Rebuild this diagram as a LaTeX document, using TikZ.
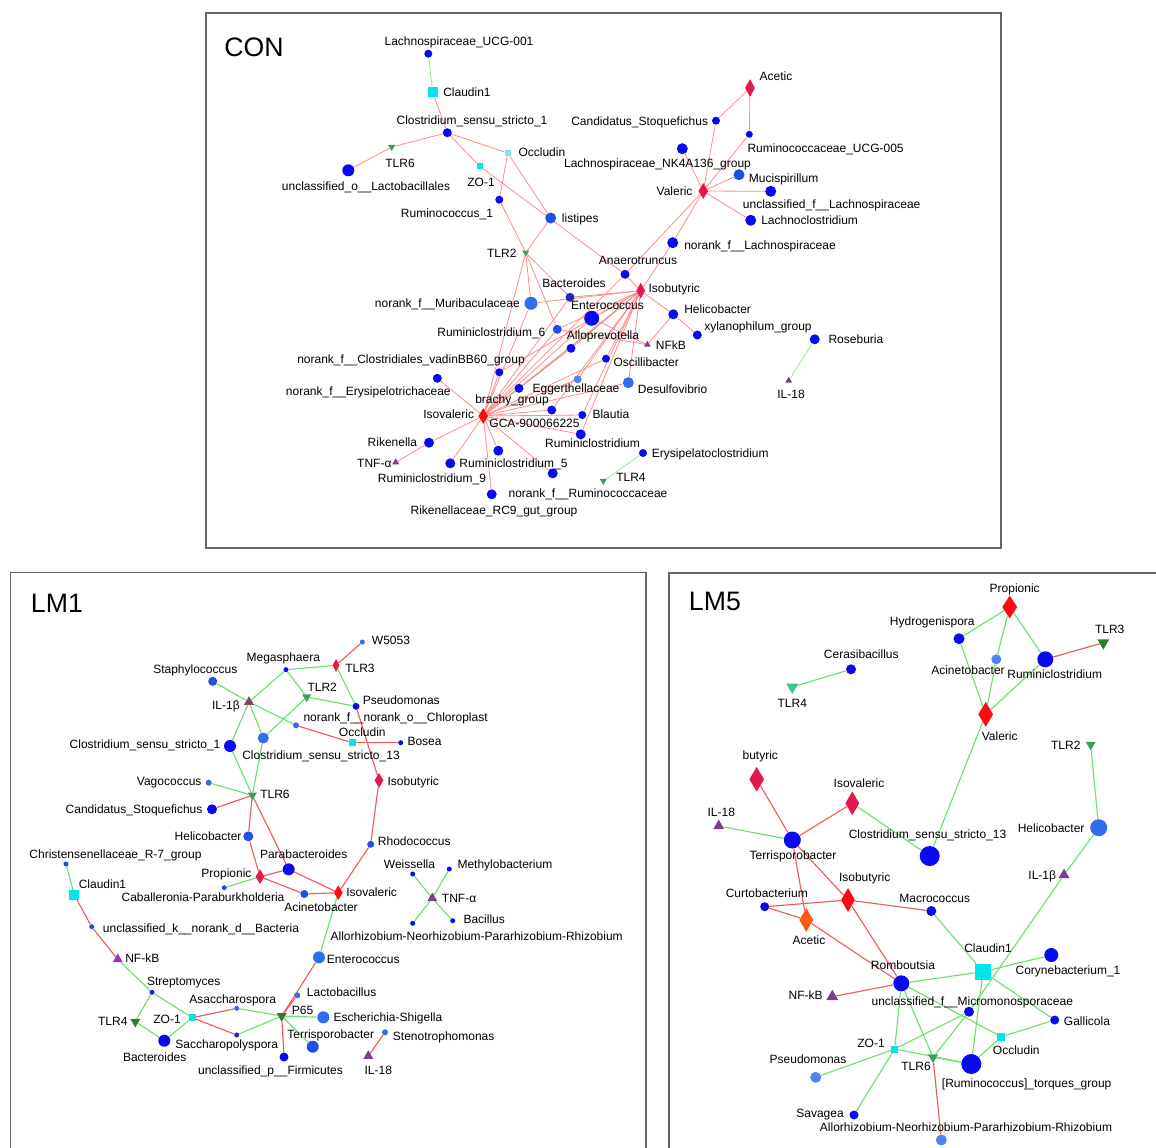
\documentclass[tikz,border=0pt]{standalone}
\usepackage{fontspec}
\setmainfont{Liberation Sans}
\usetikzlibrary{shapes.geometric,backgrounds}
\definecolor{nb}{HTML}{0A0AF0}
\definecolor{nb2}{HTML}{1E4FE6}
\definecolor{nb3}{HTML}{2F6CEE}
\definecolor{nb4}{HTML}{4F82F2}
\definecolor{nbd}{HTML}{2323C8}
\definecolor{crim}{HTML}{E3194B}
\definecolor{rd}{HTML}{FF0A14}
\definecolor{orng}{HTML}{FF5A12}
\definecolor{cy}{HTML}{00E6E6}
\definecolor{lcy}{HTML}{80E4F0}
\definecolor{tg}{HTML}{3D9E5F}
\definecolor{tgd}{HTML}{2E7D32}
\definecolor{tgm}{HTML}{3CC48C}
\definecolor{pu}{HTML}{7A3F8C}
\definecolor{pub}{HTML}{A030C8}
\definecolor{pubr}{HTML}{7A4466}
\definecolor{eR}{HTML}{FF8C8C}
\definecolor{eG}{HTML}{90EE90}
\definecolor{eR2}{HTML}{F25A5A}
\definecolor{eG2}{HTML}{6EE06E}
\tikzset{
 lab/.style={font=\fontsize{9}{10}\selectfont, inner sep=0pt, text height=6.6pt, text depth=0pt},
 ttl/.style={font=\fontsize{20}{24}\selectfont, inner sep=0pt},
 bug/.style 2 args={circle, inner sep=0pt, draw=none, fill=#1, minimum size=#2*0.75pt},
 acid/.style n args={3}{diamond, inner sep=0pt, fill=#1, minimum width=#2*0.75pt, minimum height=#3*0.75pt},
 tdown/.style 2 args={regular polygon, regular polygon sides=3, shape border rotate=180, inner sep=0pt, fill=#1, minimum size=#2*0.866pt},
 tup/.style 2 args={regular polygon, regular polygon sides=3, inner sep=0pt, fill=#1, minimum size=#2*0.866pt},
 sq/.style 2 args={rectangle, inner sep=0pt, fill=#1, minimum size=#2*0.75pt},
 re/.style={draw=eR, line width=0.6pt},
 ge/.style={draw=eG, line width=0.6pt},
 rl/.style={draw=eR2, line width=0.85pt},
 gl/.style={draw=eG2, line width=0.85pt},
 panel/.style={draw=black!60, line width=1pt}
}
\begin{document}
\begin{tikzpicture}[x=0.75pt,y=-0.75pt]
\useasboundingbox (0,0) rectangle (1156,1147);

% ================= CON =================
\node[ttl,anchor=west] (tCON) at (224,47) {CON};
\node[bug={nb}{8}] (ucg001) at (428.3,53.7) {};
\node[sq={cy}{10}] (claudinC) at (432.7,92) {};
\node[bug={nb}{9}] (cls1) at (447.3,132.7) {};
\node[tdown={tg}{7}] (tlr6C) at (391.7,147) {};
\node[bug={nb}{12}] (lactob) at (348.3,170.3) {};
\node[sq={cy}{6}] (zo1C) at (479.7,166.3) {};
\node[sq={lcy}{6}] (occC) at (507.7,153) {};
\node[bug={nb}{8}] (rum1) at (499.3,199.7) {};
\node[bug={nb2}{11}] (listipes) at (550.7,218) {};
\node[tdown={tg}{7}] (tlr2C) at (525.7,252.7) {};
\node[acid={crim}{10}{18}] (acetC) at (750,88) {};
\node[bug={nb}{8}] (candC) at (716,120.7) {};
\node[bug={nb}{7}] (ucg005) at (749.3,134.3) {};
\node[bug={nb}{11}] (nk4a) at (682.3,148.7) {};
\node[acid={crim}{10}{16}] (valC) at (703.3,191) {};
\node[bug={nb2}{11}] (mucis) at (739,174.7) {};
\node[bug={nb}{11}] (uncfL) at (770.7,191.3) {};
\node[bug={nb}{11}] (lachnocl) at (750.7,220.3) {};
\node[bug={nb}{11}] (norankL) at (672.7,242.7) {};
\node[bug={nb}{9}] (anaero) at (625,274.3) {};
\node[acid={crim}{9}{16}] (isobC) at (640.7,290.7) {};
\node[bug={nbd}{9}] (bactC) at (570,297.3) {};
\node[bug={nb3}{13}] (murib) at (531,303.3) {};
\node[bug={nb}{15}] (enteroC) at (591.7,318.3) {};
\node[bug={nb}{10}] (helicC) at (673.3,314.3) {};
\node[bug={nb}{9}] (xylan) at (697.3,335) {};
\node[bug={nb}{10}] (rosebur) at (814.7,339.3) {};
\node[tup={pu}{7}] (il18C) at (788.7,380.7) {};
\node[tup={pu}{7}] (nfkbC) at (647.3,344.7) {};
\node[bug={nb2}{9}] (rumi6) at (557.3,329.3) {};
\node[bug={nb}{9}] (allop) at (571,348.3) {};
\node[bug={nb}{8}] (oscill) at (606,358.7) {};
\node[bug={nb3}{11}] (desulf) at (628.3,382.7) {};
\node[bug={nb4}{8}] (egger) at (577.7,379.3) {};
\node[bug={nb}{8}] (vadin) at (499.3,372.3) {};
\node[bug={nb}{9}] (erysip) at (437.3,378.3) {};
\node[bug={nb}{9}] (brachy) at (519,388.3) {};
\node[bug={nb}{9}] (gca) at (551.7,410) {};
\node[bug={nb}{8}] (blautia) at (582.3,415) {};
\node[acid={rd}{10}{16}] (isovC) at (483.3,416) {};
\node[bug={nb}{10}] (ruminicl) at (580.7,434.3) {};
\node[bug={nb}{8}] (erysCl) at (643,453) {};
\node[tdown={tg}{7}] (tlr4C) at (603.3,481) {};
\node[bug={nb}{10}] (rikenella) at (429,442.7) {};
\node[tup={pu}{7}] (tnfC) at (395.7,462.3) {};
\node[bug={nb}{10}] (rumi9) at (450.3,463.3) {};
\node[bug={nb}{10}] (rumi5) at (498.3,450.7) {};
\node[bug={nb}{10}] (noranRum) at (552.7,473.3) {};
\node[bug={nb}{10}] (rc9) at (491.7,494.3) {};

\node[lab] (Lucg001) at (459,41) {Lachnospiraceae\_UCG-001};
\node[lab,anchor=west] (LclaudinC) at (443,92) {Claudin1};
\node[lab] (Lcls1) at (472,119.7) {Clostridium\_sensu\_stricto\_1};
\node[lab] (Ltlr6C) at (400,162.7) {TLR6};
\node[lab] (Llactob) at (366,185.7) {unclassified\_o\_\_Lactobacillales};
\node[lab] (Lzo1C) at (481,182) {ZO-1};
\node[lab,anchor=west] (LoccC) at (518.3,152) {Occludin};
\node[lab] (Lrum1) at (447,213) {Ruminococcus\_1};
\node[lab,anchor=west] (Llistipes) at (561.7,218) {listipes};
\node[lab,anchor=east] (Ltlr2C) at (516.7,252.7) {TLR2};
\node[lab,anchor=west] (LacetC) at (759.3,76.3) {Acetic};
\node[lab,anchor=east] (LcandC) at (708.3,120.7) {Candidatus\_Stoquefichus};
\node[lab,anchor=west] (Lucg005) at (747.3,147.7) {Ruminococcaceae\_UCG-005};
\node[lab] (Lnk4a) at (657.5,162.7) {Lachnospiraceae\_NK4A136\_group};
\node[lab,anchor=east] (LvalC) at (692.7,191) {Valeric};
\node[lab,anchor=west] (Lmucis) at (748.7,177.7) {Mucispirillum};
\node[lab] (LuncfL) at (831.7,204.3) {unclassified\_f\_\_Lachnospiraceae};
\node[lab,anchor=west] (Llachnocl) at (761,220.3) {Lachnoclostridium};
\node[lab,anchor=west] (LnorankL) at (684,245.3) {norank\_f\_\_Lachnospiraceae};
\node[lab] (Lanaero) at (638,260.3) {Anaerotruncus};
\node[lab,anchor=west] (LisobC) at (648.3,288.3) {Isobutyric};
\node[lab] (LbactC) at (574,283.3) {Bacteroides};
\node[lab,anchor=east] (Lmurib) at (520,303.3) {norank\_f\_\_Muribaculaceae};
\node[lab] (LenteroC) at (607.5,305) {Enterococcus};
\node[lab,anchor=west] (LhelicC) at (684,309.3) {Helicobacter};
\node[lab,anchor=west] (Lxylan) at (704,326) {xylanophilum\_group};
\node[lab,anchor=west] (Lrosebur) at (828.3,339.3) {Roseburia};
\node[lab] (Lil18C) at (791,393.7) {IL-18};
\node[lab,anchor=west] (LnfkbC) at (655.7,344.7) {NFkB};
\node[lab,anchor=east] (Lrumi6) at (545.7,331.7) {Ruminiclostridium\_6};
\node[lab] (Lallop) at (603,335) {Alloprevotella};
\node[lab,anchor=west] (Loscill) at (613.3,362.3) {Oscillibacter};
\node[lab,anchor=west] (Ldesulf) at (637.7,389) {Desulfovibrio};
\node[lab] (Legger) at (576,388.3) {Eggerthellaceae};
\node[lab] (Lvadin) at (411,359.3) {norank\_f\_\_Clostridiales\_vadinBB60\_group};
\node[lab] (Lerysip) at (368.3,390.7) {norank\_f\_\_Erysipelotrichaceae};
\node[lab] (Lbrachy) at (512,399.3) {brachy\_group};
\node[lab] (Lgca) at (534.5,423.3) {GCA-900066225};
\node[lab,anchor=east] (LisovC) at (474.3,414) {Isovaleric};
\node[lab,anchor=west] (Lblautia) at (592.3,414) {Blautia};
\node[lab] (Lruminicl) at (592.5,443.3) {Ruminiclostridium};
\node[lab,anchor=west] (LerysCl) at (651.7,453) {Erysipelatoclostridium};
\node[lab,anchor=west] (Ltlr4C) at (616,476.7) {TLR4};
\node[lab,anchor=east] (Lrikenella) at (417.3,442) {Rikenella};
\node[lab,anchor=east] (LtnfC) at (391.7,462.7) {TNF-α};
\node[lab] (Lrumi9) at (432,478.3) {Ruminiclostridium\_9};
\node[lab] (Lrumi5) at (513.5,462.7) {Ruminiclostridium\_5};
\node[lab] (LnoranRum) at (588,492.7) {norank\_f\_\_Ruminococcaceae};
\node[lab] (Lrc9) at (494,510) {Rikenellaceae\_RC9\_gut\_group};

% ================= LM1 =================
\node[ttl,anchor=west] (tLM1) at (30.7,603.7) {LM1};
\node[bug={nb}{5}] (megas) at (286,669.7) {};
\node[bug={nb2}{9}] (staph) at (212.7,681.3) {};
\node[tup={pubr}{10}] (il1bL) at (249,702) {};
\node[tdown={tg}{9}] (tlr2L) at (306.7,697) {};
\node[bug={nb3}{6}] (chloro) at (296,725.3) {};
\node[bug={nb}{12}] (cls1L) at (230,746) {};
\node[bug={nb3}{11}] (cls13L) at (263.3,738) {};
\node[bug={nb3}{6}] (vago) at (208.7,782.7) {};
\node[tdown={tg}{9}] (tlr6L) at (252.3,795.3) {};
\node[bug={nb}{10}] (candL) at (212,809.3) {};
\node[bug={nb2}{10}] (helicL) at (248.3,836.3) {};
\node[bug={nb2}{5}] (christ) at (66,864) {};
\node[bug={nb3}{5}] (w5053) at (362.3,642) {};
\node[acid={crim}{7}{13}] (tlr3L) at (336,665.3) {};
\node[bug={nb}{7}] (pseudoL) at (356,706.3) {};
\node[sq={cy}{7}] (occL) at (352,742.7) {};
\node[bug={nb}{5}] (bosea) at (400.7,742.7) {};
\node[acid={crim}{9}{15}] (isobL) at (379,780.3) {};
\node[bug={nb2}{7}] (rhodo) at (370.7,844.3) {};
\node[bug={nb}{12}] (parab) at (288.7,869.3) {};
\node[acid={crim}{9}{15}] (propL) at (260,876.7) {};
\node[bug={nb2}{5}] (caball) at (224.3,887.7) {};
\node[bug={nb2}{8}] (acinL) at (304.3,894) {};
\node[acid={rd}{9}{15}] (isovL) at (338.3,892.7) {};
\node[sq={cy}{10}] (claudL) at (74.3,895) {};
\node[bug={nb2}{5}] (unclk) at (91.7,926.7) {};
\node[tup={pub}{10}] (nfkbL) at (117.7,959.3) {};
\node[bug={nbd}{5}] (strep) at (152,992.3) {};
\node[tdown={tgd}{10}] (tlr4L) at (135.3,1021.7) {};
\node[sq={cy}{7}] (zo1L) at (192.3,1017.7) {};
\node[bug={nb}{12}] (bactL) at (164.3,1040.7) {};
\node[bug={nb3}{5}] (asacc) at (236.7,1008.3) {};
\node[bug={nbd}{5}] (saccharo) at (236.7,1035) {};
\node[tdown={tgd}{10}] (p65) at (281.7,1016) {};
\node[bug={nb2}{12}] (terrisL) at (312.7,1046.7) {};
\node[bug={nb}{9}] (firmic) at (284,1057) {};
\node[bug={nb3}{12}] (enteroL) at (319,957.3) {};
\node[bug={nb3}{6}] (lacto) at (297.3,995.3) {};
\node[bug={nb3}{12}] (escher) at (323.3,1017.3) {};
\node[bug={nb3}{6}] (steno) at (385,1032.3) {};
\node[tup={pu}{10}] (il18L) at (368.3,1056) {};
\node[bug={nb}{5}] (weiss) at (412.7,874) {};
\node[bug={nb}{5}] (methylo) at (449.3,869) {};
\node[tup={pu}{10}] (tnfL) at (432.3,898.3) {};
\node[bug={nb}{5}] (bacillus) at (452.7,920.7) {};
\node[bug={nb}{5}] (allorL) at (412.7,923.3) {};

\node[lab] (Lmegas) at (283.3,657) {Megasphaera};
\node[lab] (Lstaph) at (195.3,668.7) {Staphylococcus};
\node[lab,anchor=east] (Lil1bL) at (240,705) {IL-1β};
\node[lab,anchor=west] (Ltlr2L) at (307.3,687) {TLR2};
\node[lab,anchor=west] (Lchloro) at (303.3,717) {norank\_f\_\_norank\_o\_\_Chloroplast};
\node[lab,anchor=east] (Lcls1L) at (220.7,743.7) {Clostridium\_sensu\_stricto\_1};
\node[lab] (Lcls13L) at (321,754.7) {Clostridium\_sensu\_stricto\_13};
\node[lab,anchor=east] (Lvago) at (201.7,781.3) {Vagococcus};
\node[lab,anchor=west] (Ltlr6L) at (260,793.7) {TLR6};
\node[lab,anchor=east] (LcandL) at (202.7,809.3) {Candidatus\_Stoquefichus};
\node[lab,anchor=east] (LhelicL) at (241.7,836) {Helicobacter};
\node[lab] (Lchrist) at (115.5,854.3) {Christensenellaceae\_R-7\_group};
\node[lab,anchor=west] (Lw5053) at (371.7,640.3) {W5053};
\node[lab,anchor=west] (Ltlr3L) at (345,667.7) {TLR3};
\node[lab,anchor=west] (LpseudoL) at (362.7,699.7) {Pseudomonas};
\node[lab] (LoccL) at (362.3,732) {Occludin};
\node[lab,anchor=west] (Lbosea) at (407.3,741) {Bosea};
\node[lab,anchor=west] (LisobL) at (387.3,781.3) {Isobutyric};
\node[lab,anchor=west] (Lrhodo) at (377.7,841.3) {Rhodococcus};
\node[lab] (Lparab) at (303.7,854) {Parabacteroides};
\node[lab,anchor=east] (LpropL) at (251.7,873.3) {Propionic};
\node[lab] (Lcaball) at (203,896.7) {Caballeronia-Paraburkholderia};
\node[lab] (LacinL) at (321,906.7) {Acinetobacter};
\node[lab,anchor=west] (LisovL) at (346,891.7) {Isovaleric};
\node[lab] (LclaudL) at (102.5,884.3) {Claudin1};
\node[lab,anchor=west] (Lunclk) at (102.7,928.3) {unclassified\_k\_\_norank\_d\_\_Bacteria};
\node[lab,anchor=west] (LnfkbL) at (125,957.7) {NF-kB};
\node[lab] (Lstrep) at (183.7,981.3) {Streptomyces};
\node[lab,anchor=east] (Ltlr4L) at (127.7,1021) {TLR4};
\node[lab,anchor=east] (Lzo1L) at (181,1019) {ZO-1};
\node[lab] (LbactL) at (154.7,1057.3) {Bacteroides};
\node[lab] (Lasacc) at (232.7,999) {Asaccharospora};
\node[lab] (Lsaccharo) at (226.8,1044) {Saccharopolyspora};
\node[lab,anchor=west] (Lp65) at (291.7,1010) {P65};
\node[lab] (LterrisL) at (330.7,1034) {Terrisporobacter};
\node[lab] (Lfirmic) at (270.5,1070) {unclassified\_p\_\_Firmicutes};
\node[lab,anchor=west] (LenteroL) at (326.7,959.3) {Enterococcus};
\node[lab,anchor=west] (Llacto) at (306.7,991.7) {Lactobacillus};
\node[lab,anchor=west] (Lescher) at (333.3,1016.7) {Escherichia-Shigella};
\node[lab,anchor=west] (Lsteno) at (392.7,1035.7) {Stenotrophomonas};
\node[lab] (Lil18L) at (378.3,1070) {IL-18};
\node[lab] (Lweiss) at (409.5,864.3) {Weissella};
\node[lab,anchor=west] (Lmethylo) at (457.3,864) {Methylobacterium};
\node[lab,anchor=west] (LtnfL) at (441.7,898.3) {TNF-α};
\node[lab,anchor=west] (Lbacillus) at (463.3,919) {Bacillus};
\node[lab] (LallorL) at (476.7,936) {Allorhizobium-Neorhizobium-Pararhizobium-Rhizobium};

% ================= LM5 =================
\node[ttl,anchor=west] (tLM5) at (688.7,601.3) {LM5};
\node[acid={rd}{15}{23}] (propM) at (1009.7,607) {};
\node[bug={nb}{11}] (hydro) at (959,638.7) {};
\node[tdown={tgd}{12}] (tlr3M) at (1103.3,642.7) {};
\node[bug={nb}{10}] (ceras) at (851,669.3) {};
\node[tdown={tgm}{12}] (tlr4M) at (792.3,687) {};
\node[bug={nb4}{10}] (acinM) at (996.3,659.3) {};
\node[bug={nb}{16}] (rumiM) at (1045.3,659.3) {};
\node[acid={rd}{15}{25}] (valM) at (985.7,714.3) {};
\node[tdown={tg}{10}] (tlr2M) at (1090.7,744.7) {};
\node[acid={crim}{15}{25}] (butM) at (756.7,779.3) {};
\node[acid={crim}{14}{24}] (isovM) at (852.3,803.3) {};
\node[tup={pu}{11}] (il18M) at (718.7,826) {};
\node[bug={nb}{17}] (terrisM) at (792.3,840) {};
\node[bug={nb}{20}] (cls13M) at (929.7,856) {};
\node[bug={nb3}{17}] (helicM) at (1098.7,827.7) {};
\node[tup={pu}{11}] (il1bM) at (1064,875) {};
\node[acid={rd}{14}{24}] (isobM) at (848,900) {};
\node[bug={nb}{9}] (curto) at (764.7,906.7) {};
\node[acid={orng}{14}{24}] (acetM) at (806.3,920) {};
\node[bug={nb}{10}] (macro) at (931.3,911) {};
\node[sq={cy}{16}] (claudM) at (983,971.7) {};
\node[bug={nb}{14}] (coryne) at (1051.3,955) {};
\node[bug={nb}{16}] (rombo) at (901.3,983.3) {};
\node[tup={pu}{12}] (nfkbM) at (832.3,996.7) {};
\node[bug={nb}{10}] (micro) at (969,1011.7) {};
\node[bug={nb}{9}] (gallic) at (1054.7,1020) {};
\node[sq={cy}{8}] (occM) at (1001.3,1036.7) {};
\node[sq={cy}{7}] (zo1M) at (894.7,1049) {};
\node[tdown={tg}{10}] (tlr6M) at (933,1057.3) {};
\node[bug={nb}{20}] (torques) at (971.3,1064) {};
\node[bug={nb4}{11}] (pseudoM) at (815.7,1077.3) {};
\node[bug={nb}{9}] (savagea) at (854,1115) {};
\node[bug={nb4}{11}] (allorM) at (941.3,1140) {};

\node[lab] (LpropM) at (1014.7,587.7) {Propionic};
\node[lab] (Lhydro) at (932.3,621.3) {Hydrogenispora};
\node[lab] (Ltlr3M) at (1109.7,628.7) {TLR3};
\node[lab] (Lceras) at (861.3,653.7) {Cerasibacillus};
\node[lab] (Ltlr4M) at (792.3,703) {TLR4};
\node[lab] (LacinM) at (968,669.7) {Acinetobacter};
\node[lab] (LrumiM) at (1054.7,674.3) {Ruminiclostridium};
\node[lab] (LvalM) at (999.7,736.3) {Valeric};
\node[lab,anchor=east] (Ltlr2M) at (1080.7,744.7) {TLR2};
\node[lab] (LbutM) at (760.3,754.7) {butyric};
\node[lab] (LisovM) at (859,783.3) {Isovaleric};
\node[lab] (Lil18M) at (721.3,811.7) {IL-18};
\node[lab] (LterrisM) at (793,855) {Terrisporobacter};
\node[lab] (Lcls13M) at (927.5,834) {Clostridium\_sensu\_stricto\_13};
\node[lab,anchor=east] (LhelicM) at (1084.7,828.3) {Helicobacter};
\node[lab,anchor=east] (Lil1bM) at (1056.3,875) {IL-1β};
\node[lab] (LisobM) at (864.7,876.7) {Isobutyric};
\node[lab] (Lcurto) at (766.8,893.3) {Curtobacterium};
\node[lab] (LacetM) at (809,940) {Acetic};
\node[lab] (Lmacro) at (934.7,897.7) {Macrococcus};
\node[lab] (LclaudM) at (988,948.3) {Claudin1};
\node[lab] (Lcoryne) at (1068,970) {Corynebacterium\_1};
\node[lab] (Lrombo) at (903,965) {Romboutsia};
\node[lab,anchor=east] (LnfkbM) at (823,995) {NF-kB};
\node[lab] (Lmicro) at (972.3,1000.7) {unclassified\_f\_\_Micromonosporaceae};
\node[lab,anchor=west] (Lgallic) at (1063.7,1021) {Gallicola};
\node[lab] (LoccM) at (1016.3,1050) {Occludin};
\node[lab] (Lzo1M) at (871,1043.3) {ZO-1};
\node[lab] (Ltlr6M) at (916,1066) {TLR6};
\node[lab] (Ltorques) at (1026.7,1082.7) {[Ruminococcus]\_torques\_group};
\node[lab] (LpseudoM) at (808,1059.3) {Pseudomonas};
\node[lab,anchor=east] (Lsavagea) at (844,1112.7) {Savagea};
\node[lab] (LallorM) at (966,1127.3) {Allorhizobium-Neorhizobium-Pararhizobium-Rhizobium};

% ================= edges and frames =================
\begin{scope}[on background layer]
\fill[white] (0,0) rectangle (1156,1147);
\draw[panel] (206,13) rectangle (1001,548);
\draw[panel] (10.5,572.5) rectangle (646,1160);
\draw[panel] (669,573) rectangle (1170,1160);
% CON
\foreach \a/\b in {ucg001/claudinC, isovC/isobC, erysCl/tlr4C, rosebur/il18C}
  \draw[ge] (\a) -- (\b);
\foreach \a/\b in {claudinC/cls1, cls1/tlr6C, tlr6C/lactob, cls1/zo1C, zo1C/anaero, cls1/occC, occC/rum1, occC/listipes,
  listipes/tlr2C, rum1/tlr2C, tlr2C/murib, tlr2C/rumi6, tlr2C/bactC, tlr2C/isovC,
  acetC/candC, acetC/ucg005, candC/valC, ucg005/valC, nk4a/valC, valC/mucis, valC/uncfL, valC/lachnocl, valC/norankL,
  norankL/isobC, valC/anaero, anaero/isovC, anaero/isobC,
  isobC/bactC, isobC/murib, isobC/enteroC, isobC/rumi6, isobC/allop, isobC/oscill, isobC/egger, isobC/desulf,
  isobC/blautia, isobC/ruminicl, isobC/gca, isobC/brachy, isobC/vadin, isobC/helicC, helicC/xylan, helicC/nfkbC,
  enteroC/nfkbC, rumi6/nfkbC,
  isovC/murib, isovC/rumi6, isovC/bactC, isovC/enteroC, isovC/allop, isovC/oscill, isovC/desulf, isovC/egger,
  isovC/brachy, isovC/gca, isovC/blautia, isovC/ruminicl, isovC/vadin, isovC/erysip, isovC/rikenella, rikenella/tnfC,
  isovC/rumi9, isovC/rumi5, isovC/noranRum, isovC/rc9}
  \draw[re] (\a) -- (\b);
% LM1
\foreach \a/\b in {staph/il1bL, il1bL/chloro, il1bL/megas, megas/tlr2L, megas/tlr3L, tlr2L/cls13L, tlr2L/pseudoL,
  il1bL/cls1L, il1bL/cls13L, cls1L/tlr6L, cls13L/tlr6L, vago/tlr6L, tlr3L/pseudoL, propL/caball, isovL/enteroL,
  p65/escher, p65/terrisL, p65/asacc, p65/saccharo, strep/zo1L, zo1L/bactL, strep/tlr4L, tlr4L/bactL, nfkbL/strep,
  christ/claudL, tnfL/weiss, tnfL/methylo, tnfL/bacillus, tnfL/allorL}
  \draw[gl] (\a) -- (\b);
\foreach \a/\b in {tlr3L/w5053, pseudoL/isobL, chloro/occL, occL/bosea, isobL/rhodo, rhodo/isovL, candL/tlr6L,
  tlr6L/helicL, tlr6L/parab, helicL/propL, propL/parab, propL/acinL, parab/isovL, acinL/isovL, enteroL/p65,
  lacto/p65, p65/firmic, zo1L/asacc, zo1L/saccharo, claudL/unclk, unclk/nfkbL, steno/il18L}
  \draw[rl] (\a) -- (\b);
% LM5
\foreach \a/\b in {propM/hydro, propM/acinM, propM/rumiM, hydro/valM, acinM/valM, rumiM/valM, ceras/tlr4M,
  valM/cls13M, isovM/cls13M, il18M/terrisM, tlr2M/helicM, helicM/il1bM, il1bM/micro, macro/claudM, claudM/coryne,
  claudM/rombo, claudM/gallic, claudM/torques, rombo/zo1M, rombo/tlr6M, rombo/occM, micro/zo1M, micro/tlr6M,
  zo1M/torques, tlr6M/torques, occM/gallic, occM/torques, zo1M/pseudoM, zo1M/savagea}
  \draw[gl] (\a) -- (\b);
\foreach \a/\b in {rumiM/tlr3M, butM/terrisM, isovM/terrisM, terrisM/acetM, terrisM/isobM, isobM/rombo,
  curto/isobM, isobM/macro, curto/acetM, acetM/rombo, rombo/nfkbM, tlr6M/allorM}
  \draw[rl] (\a) -- (\b);
\end{scope}
\end{tikzpicture}
\end{document}
